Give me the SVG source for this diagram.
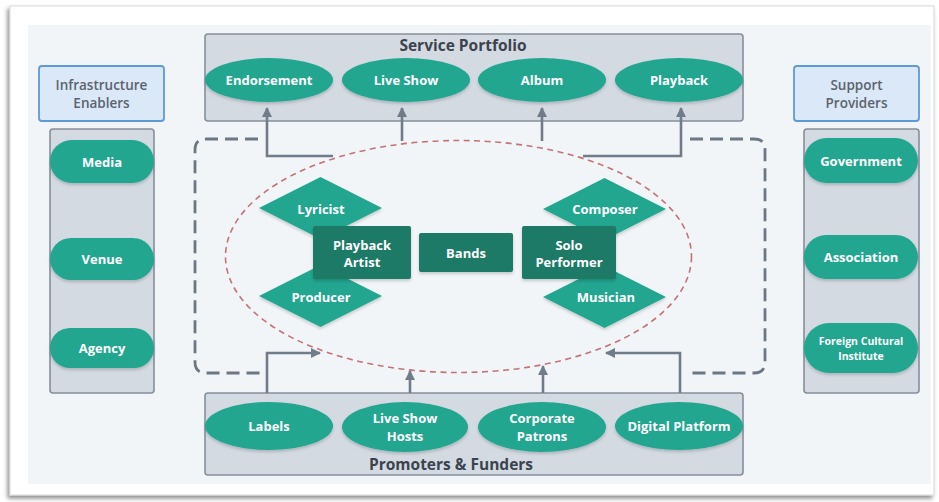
<svg xmlns="http://www.w3.org/2000/svg" width="939" height="502" viewBox="0 0 939 502">
<defs>
<style>
.panel{fill:#d3dae2;stroke:#858f9a;stroke-width:1.6}
.hdr{fill:#dbe8f7;stroke:#5d9ad8;stroke-width:1.8}
.teal{fill:#22a68f;filter:url(#sh)}
.dark{fill:#1f7a66;filter:url(#sh)}
.wt{font-family:"Open Sans","Noto Sans",sans-serif;font-weight:700;fill:#ffffff;text-anchor:middle;dominant-baseline:central}
.ttl{font-family:"Open Sans","Noto Sans",sans-serif;font-weight:700;fill:#3b444e;text-anchor:middle;dominant-baseline:central;font-size:15.5px}
.hd{font-family:"Open Sans","Noto Sans",sans-serif;font-weight:600;fill:#5a636e;text-anchor:middle;dominant-baseline:central;font-size:13.5px}
.conn{fill:none;stroke:#707c89;stroke-width:2.6}
.dash{fill:none;stroke:#6b7785;stroke-width:2.8;stroke-dasharray:13 7}
</style>
<filter id="sh" x="-20%" y="-20%" width="140%" height="150%">
<feDropShadow dx="0" dy="2" stdDeviation="1.5" flood-color="#000" flood-opacity="0.18"/>
</filter>
<filter id="cs" x="-5%" y="-5%" width="110%" height="110%">
<feDropShadow dx="-2" dy="3" stdDeviation="2" flood-color="#000" flood-opacity="0.45"/>
</filter>
<marker id="ah" viewBox="0 0 10 10" refX="9" refY="5" markerWidth="10" markerHeight="10" markerUnits="userSpaceOnUse" orient="auto">
<path d="M0,0 L10,5 L0,10 z" fill="#707c89"/>
</marker>
</defs>

<rect x="10" y="6" width="924" height="489" fill="#ffffff" stroke="#d8d8d8" stroke-width="1" filter="url(#cs)"/>
<rect x="28" y="25" width="903" height="459" fill="#f2f5f8"/>

<g id="service-portfolio">
<rect class="panel" x="205" y="34" width="538" height="87" rx="3"/>
<text class="ttl" x="463" y="45">Service Portfolio</text>
</g>
<g id="endorsement"><ellipse class="teal" cx="269" cy="80" rx="64" ry="22"/><text class="wt" x="269" y="80" font-size="13">Endorsement</text></g>
<g id="live-show"><ellipse class="teal" cx="406" cy="80" rx="64" ry="22"/><text class="wt" x="406" y="80" font-size="13">Live Show</text></g>
<g id="album"><ellipse class="teal" cx="542" cy="80" rx="64" ry="22"/><text class="wt" x="542" y="80" font-size="13">Album</text></g>
<g id="playback"><ellipse class="teal" cx="679" cy="80" rx="64" ry="22"/><text class="wt" x="679" y="80" font-size="13">Playback</text></g>

<g id="infrastructure-enablers">
<rect class="hdr" x="39" y="66" width="125" height="55" rx="3"/>
<text class="hd" x="101.5" y="85">Infrastructure</text>
<text class="hd" x="101.5" y="103">Enablers</text>
<rect class="panel" x="50" y="129" width="104" height="264" rx="3"/>
</g>
<g id="media"><rect class="teal" x="50" y="140" width="104" height="43" rx="21.5"/><text class="wt" x="102" y="162" font-size="13">Media</text></g>
<g id="venue"><rect class="teal" x="50" y="238" width="104" height="42" rx="21"/><text class="wt" x="102" y="259" font-size="13">Venue</text></g>
<g id="agency"><rect class="teal" x="50" y="328" width="104" height="40" rx="20"/><text class="wt" x="102" y="348" font-size="13">Agency</text></g>

<g id="support-providers">
<rect class="hdr" x="794" y="66" width="125" height="55" rx="3"/>
<text class="hd" x="856.5" y="85">Support</text>
<text class="hd" x="856.5" y="103">Providers</text>
<rect class="panel" x="804" y="129" width="115" height="264" rx="3"/>
</g>
<g id="government"><rect class="teal" x="804" y="138" width="114" height="45" rx="22.5"/><text class="wt" x="861" y="161" font-size="13">Government</text></g>
<g id="association"><rect class="teal" x="804" y="235" width="114" height="44" rx="22"/><text class="wt" x="861" y="257" font-size="13">Association</text></g>
<g id="foreign-cultural-institute"><rect class="teal" x="804" y="323" width="114" height="50" rx="25"/><text class="wt" x="861" y="341" font-size="10.5">Foreign Cultural</text><text class="wt" x="861" y="356" font-size="10.5">Institute</text></g>

<g id="promoters-funders">
<rect class="panel" x="205" y="393" width="538" height="82" rx="3"/>
<text class="ttl" x="451" y="464">Promoters &amp; Funders</text>
</g>
<g id="labels"><ellipse class="teal" cx="269" cy="426" rx="64" ry="24"/><text class="wt" x="269" y="426" font-size="13">Labels</text></g>
<g id="live-show-hosts"><ellipse class="teal" cx="405" cy="427" rx="63" ry="25"/><text class="wt" x="405" y="418" font-size="13">Live Show</text><text class="wt" x="405" y="436" font-size="13">Hosts</text></g>
<g id="corporate-patrons"><ellipse class="teal" cx="542" cy="427" rx="64" ry="25"/><text class="wt" x="542" y="418" font-size="13">Corporate</text><text class="wt" x="542" y="436" font-size="13">Patrons</text></g>
<g id="digital-platform"><ellipse class="teal" cx="679" cy="426" rx="64" ry="24"/><text class="wt" x="679" y="426" font-size="13">Digital Platform</text></g>

<g id="creator-cluster">
<ellipse cx="458.5" cy="256.5" rx="233" ry="116" fill="none" stroke="#c27475" stroke-width="1.6" stroke-dasharray="6 4.5"/>
</g>

<g id="connectors">
<path class="dash" d="M258,139 H206 Q195,139 195,150 V362 Q195,373 206,373 H260"/>
<path class="dash" d="M690,139 H754 Q765,139 765,150 V362 Q765,373 754,373 H688"/>
<path class="conn" d="M333,156 H267 V108" marker-end="url(#ah)"/>
<path class="conn" d="M402,141 V108" marker-end="url(#ah)"/>
<path class="conn" d="M542,141 V108" marker-end="url(#ah)"/>
<path class="conn" d="M583,156 H681 V108" marker-end="url(#ah)"/>
<path class="conn" d="M267,393 V353 H320" marker-end="url(#ah)"/>
<path class="conn" d="M410,393 V371" marker-end="url(#ah)"/>
<path class="conn" d="M543,393 V366" marker-end="url(#ah)"/>
<path class="conn" d="M680,393 V353 H606" marker-end="url(#ah)"/>
</g>

<g id="lyricist"><polygon class="teal" points="259,208 320.5,177 382,208 320.5,239"/><text class="wt" x="321" y="209" font-size="13">Lyricist</text></g>
<g id="producer"><polygon class="teal" points="259,296 320.5,265 382,296 320.5,327"/><text class="wt" x="321" y="297" font-size="13">Producer</text></g>
<g id="composer"><polygon class="teal" points="543,209 604.5,178 666,209 604.5,240"/><text class="wt" x="605" y="209" font-size="13">Composer</text></g>
<g id="musician"><polygon class="teal" points="543,297 604.5,266 666,297 604.5,328"/><text class="wt" x="606" y="297" font-size="13">Musician</text></g>

<g id="playback-artist"><rect class="dark" x="313" y="226" width="98" height="53" rx="2"/><text class="wt" x="362" y="245" font-size="13">Playback</text><text class="wt" x="362" y="262" font-size="13">Artist</text></g>
<g id="bands"><rect class="dark" x="419" y="233" width="94" height="39" rx="2"/><text class="wt" x="466" y="253" font-size="13">Bands</text></g>
<g id="solo-performer"><rect class="dark" x="522" y="226" width="94" height="53" rx="2"/><text class="wt" x="569" y="245" font-size="13">Solo</text><text class="wt" x="569" y="262" font-size="13">Performer</text></g>
</svg>
